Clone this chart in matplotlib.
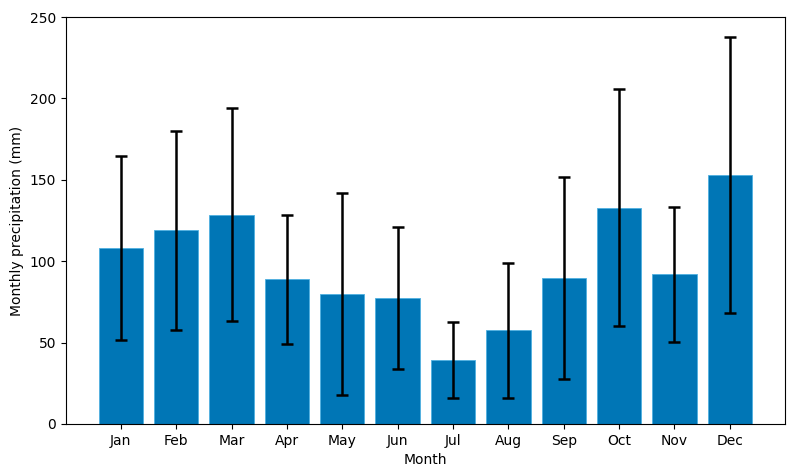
import matplotlib
matplotlib.use('Agg')
import matplotlib.pyplot as plt

months = ['Jan', 'Feb', 'Mar', 'Apr', 'May', 'Jun',
          'Jul', 'Aug', 'Sep', 'Oct', 'Nov', 'Dec']
mean_precip = [108, 119, 128.5, 89, 80, 77.5, 39.5, 57.5, 89.5, 133, 92, 153]
std_precip = [56.5, 61, 65.5, 39.7, 62, 43.5, 23.3, 41.3, 62, 73, 41.5, 84.7]

fig = plt.figure(figsize=(7.95, 4.74), dpi=100)
ax = fig.add_axes([0.083, 0.1055, 0.904, 0.8585])
ax.bar(months, mean_precip, yerr=std_precip, color='#0076b6',
       edgecolor='#4fb0e0', linewidth=0.6,
       error_kw=dict(ecolor='black', elinewidth=1.8, capsize=4, capthick=1.8))
ax.set_ylim(0, 250)
ax.set_xlabel('Month')
ax.set_ylabel('Monthly precipitation (mm)')
fig.savefig('out.png', dpi=100)
